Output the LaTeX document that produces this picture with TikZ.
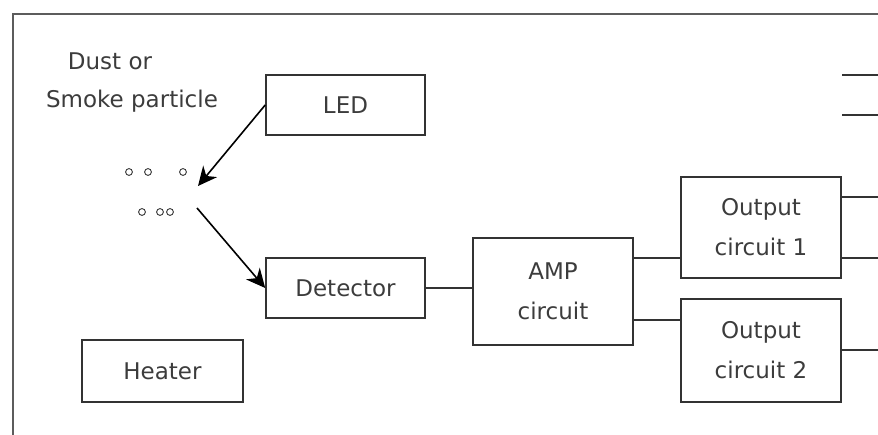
\documentclass[tikz,border=0pt]{standalone}
\usepackage{fontspec}
\setmainfont{DejaVu Sans}
\usetikzlibrary{arrows.meta}
\definecolor{ink}{HTML}{333333}
\definecolor{textc}{HTML}{3C3C3C}
\begin{document}
\begin{tikzpicture}[x=1pt,y=-1pt,
  txt/.style={text=textc,font=\fontsize{23}{40}\selectfont},
  box/.style={txt,draw=ink,line width=1.6pt,inner sep=0pt,align=center},
  wire/.style={draw=ink,line width=1.4pt},
  arr/.style={draw=black,line width=1.6pt,-{Stealth[length=19pt,width=18pt,inset=6pt]}},
  dot/.style={draw=ink,line width=0.9pt}]
\useasboundingbox (0,0) rectangle (878,435);
\draw[draw=ink!80,line width=1.6pt] (13,435) -- (13,14) -- (878,14);
\node[txt] (dust) at (110,61) {Dust or};
\node[txt] (smoke) at (132,101) {Smoke particle};
\node[box,minimum width=159pt,minimum height=60pt] (led) at (345.5,105) {LED};
\node[box,minimum width=159pt,minimum height=60pt] (det) at (345.5,288) {Detector};
\node[box,minimum width=160pt,minimum height=107pt] (amp) at (553,291.5) {AMP\\circuit};
\node[box,minimum width=160pt,minimum height=101pt] (o1) at (761,227.5) {Output\\circuit 1};
\node[box,minimum width=160pt,minimum height=103pt] (o2) at (761,350.5) {Output\\circuit 2};
\node[box,minimum width=161pt,minimum height=62pt] (heat) at (162.5,371) {Heater};
\coordinate (a1) at (198,186);
\coordinate (a2) at (197,208);
\draw[arr] (led.west) -- (a1);
\draw[arr] (a2) -- (det.west);
\draw[wire] (det.east) -- (amp.west |- det.east);
\draw[wire] (amp.east |- 0,258) -- (o1.west |- 0,258);
\draw[wire] (amp.east |- 0,320) -- (o2.west |- 0,320);
\coordinate (e1) at (878,75);
\coordinate (e2) at (878,115);
\coordinate (e3) at (878,197);
\coordinate (e4) at (878,258);
\coordinate (e5) at (878,350);
\draw[wire] (842,75) -- (e1);
\draw[wire] (842,115) -- (e2);
\draw[wire] (o1.east |- e3) -- (e3);
\draw[wire] (o1.east |- e4) -- (e4);
\draw[wire] (o2.east |- e5) -- (e5);
\foreach \p in {(129,172),(148,172),(183,172),(142,212),(160,212),(170,212)}
  \draw[dot] \p circle (3.4pt);
\end{tikzpicture}
\end{document}
